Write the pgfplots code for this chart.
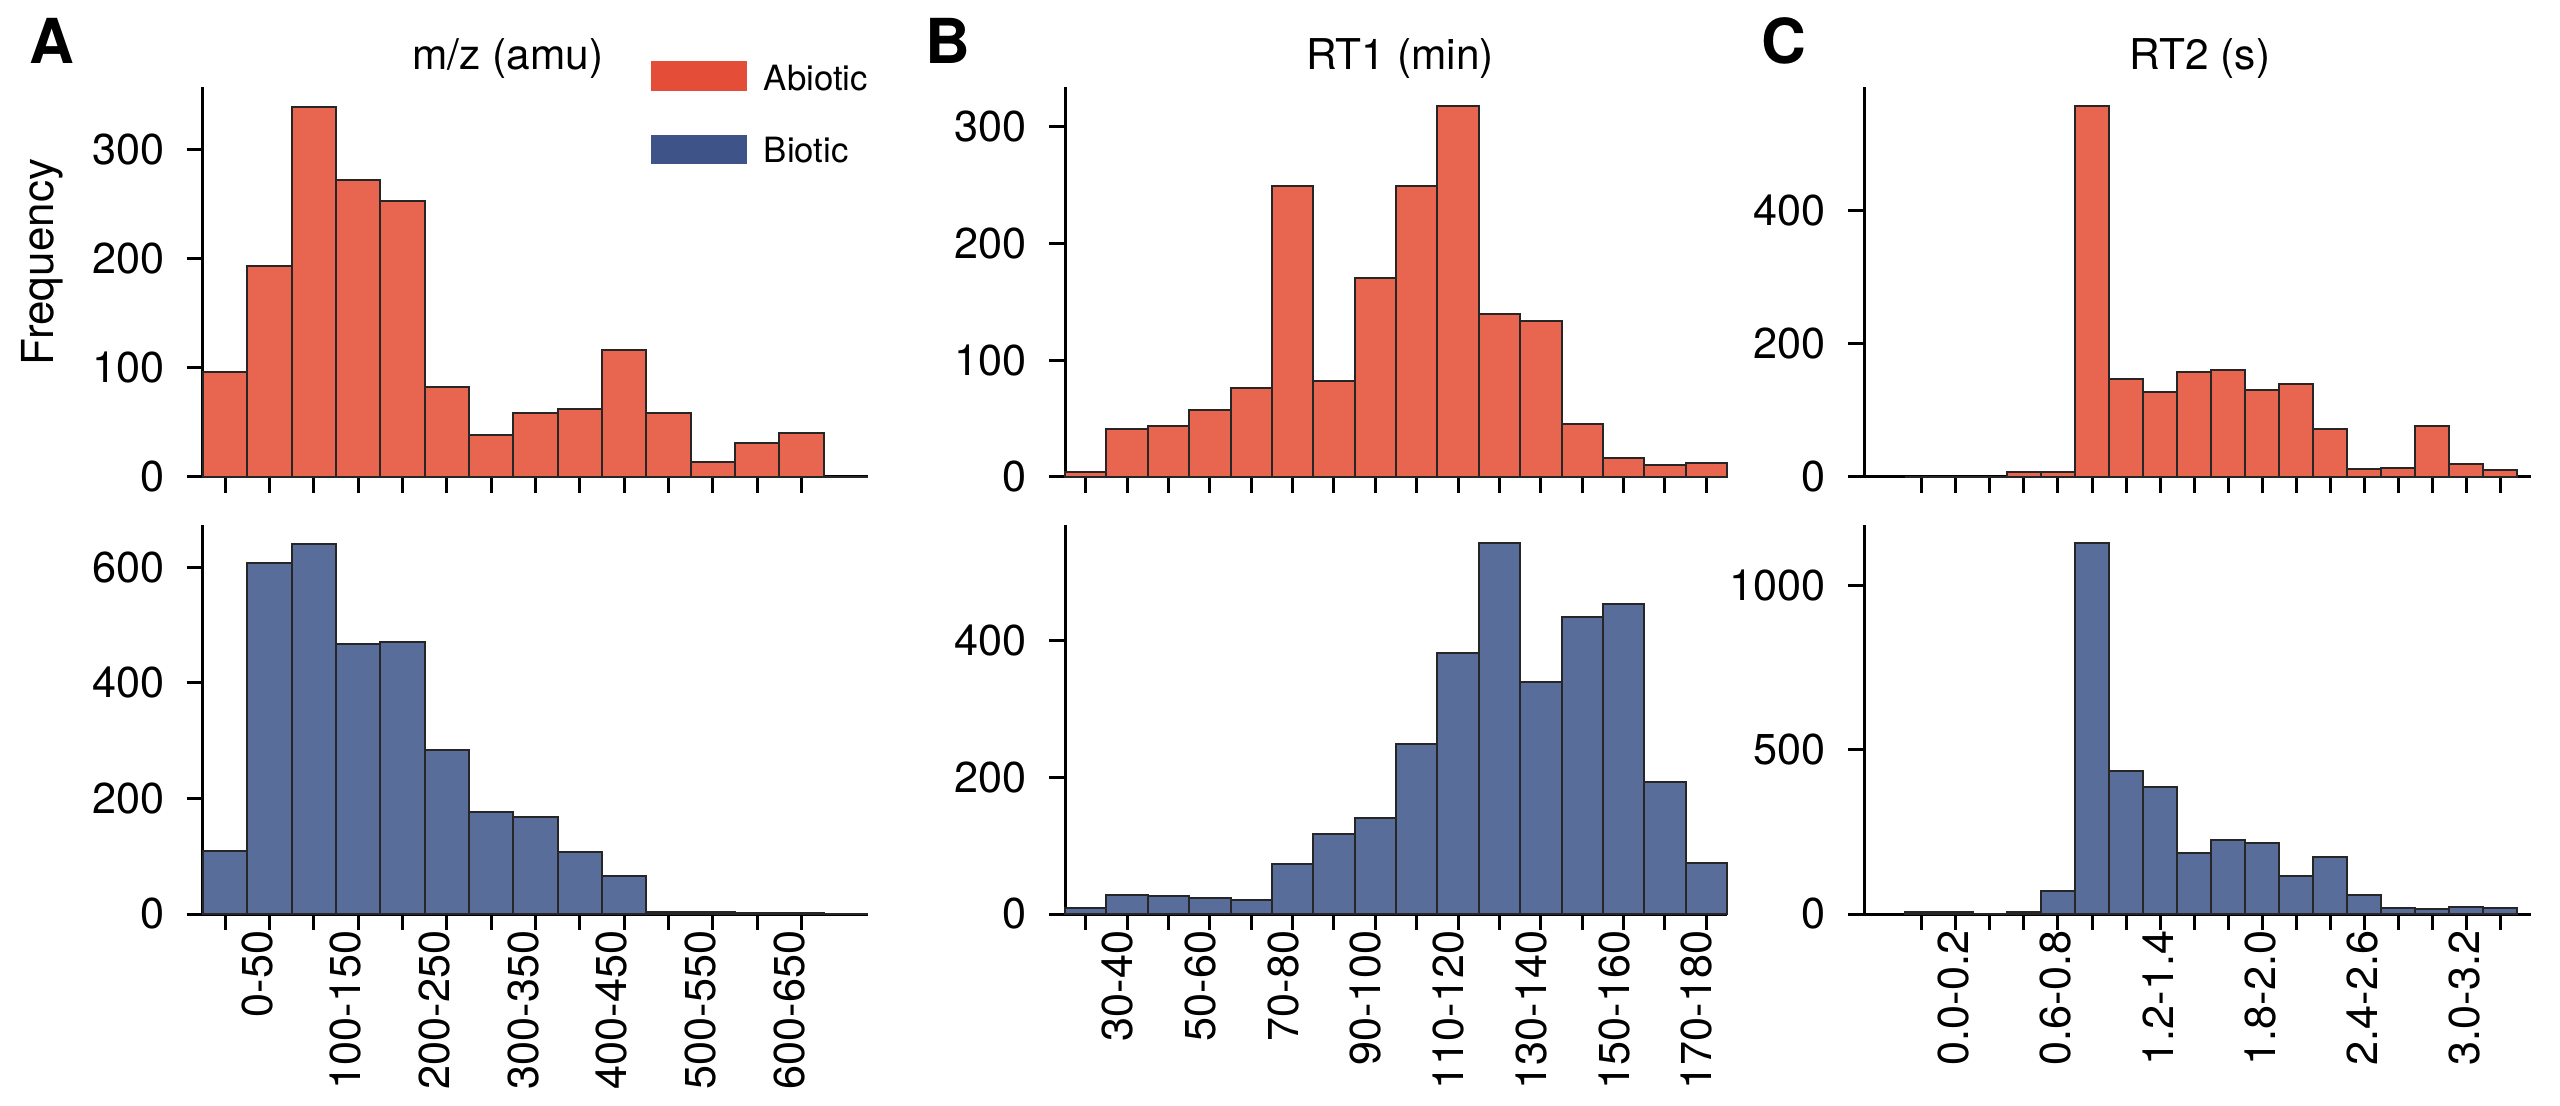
\documentclass[border=0pt]{standalone}
\usepackage{pgfplots}
\pgfplotsset{compat=1.18}
\usepackage{fontspec}
\setmainfont{TeX Gyre Heros}
\definecolor{abfill}{HTML}{E8654F}
\definecolor{bifill}{HTML}{596D9A}
\definecolor{ablegend}{HTML}{E44D38}
\definecolor{bilegend}{HTML}{3E5387}
\pgfplotsset{
  hist/.style={
    scale only axis, axis lines=left, axis line style={-, line width=0.75pt, black},
    tick align=outside, major tick length=4pt,
    every tick/.style={black, line width=0.75pt},
    ymin=0, ybar, bar width=1, bar shift=0,
    tick label style={font=\fontsize{10.8}{12}\selectfont},
    /pgf/number format/assume math mode=true,
    /pgf/number format/1000 sep={},
    xticklabel style={rotate=90, anchor=east, inner sep=0pt, yshift=-8pt},
    yticklabel style={anchor=east, inner sep=0pt, xshift=-5.5pt},
    anchor=south west, clip=false,
  },
  abio/.style={fill=abfill, draw=black!85, line width=0.5pt},
  bio/.style={fill=bifill, draw=black!85, line width=0.5pt},
}
\begin{document}
\begin{tikzpicture}
\useasboundingbox (0,0) rectangle (640pt,276.25pt);
% ---------------- A ----------------
\begin{axis}[hist, at={(50.75pt,157pt)}, width=166.25pt, height=97.5pt,
  xmin=-0.5, xmax=14.5, ymax=357, xtick={0,...,13}, xticklabels={},
  ytick={0,100,200,300}]
\addplot[abio] coordinates {(0,96) (1,193) (2,339) (3,272) (4,253) (5,82) (6,38) (7,59) (8,62) (9,116) (10,59) (11,14) (12,31) (13,40) (14,0)};
\end{axis}
\begin{axis}[hist, at={(50.75pt,47.75pt)}, width=166.25pt, height=97.25pt,
  xmin=-0.5, xmax=14.5, ymax=673, xtick={0,...,13},
  xticklabels={0-50,{},100-150,{},200-250,{},300-350,{},400-450,{},500-550,{},600-650,{}},
  ytick={0,200,400,600}]
\addplot[bio] coordinates {(0,109) (1,608) (2,641) (3,467) (4,471) (5,284) (6,177) (7,168) (8,107) (9,66) (10,4) (11,3) (12,1) (13,1) (14,0)};
\end{axis}
% ---------------- B ----------------
\begin{axis}[hist, at={(266.25pt,157pt)}, width=165.5pt, height=97.5pt,
  xmin=-0.5, xmax=15.5, ymax=334, xtick={0,...,15}, xticklabels={},
  ytick={0,100,200,300}]
\addplot[abio] coordinates {(0,4) (1,41) (2,44) (3,57) (4,76) (5,249) (6,82) (7,170) (8,249) (9,318) (10,140) (11,134) (12,45) (13,16) (14,10) (15,12)};
\end{axis}
\begin{axis}[hist, at={(266.25pt,47.75pt)}, width=165.5pt, height=97.25pt,
  xmin=-0.5, xmax=15.5, ymax=569, xtick={0,...,15},
  xticklabels={30-40,{},50-60,{},70-80,{},90-100,{},110-120,{},130-140,{},150-160,{},170-180,{}},
  ytick={0,200,400}]
\addplot[bio] coordinates {(0,9) (1,28) (2,26) (3,23) (4,20) (5,73) (6,117) (7,140) (8,249) (9,382) (10,542) (11,339) (12,434) (13,454) (14,193) (15,75)};
\end{axis}
% ---------------- C ----------------
\begin{axis}[hist, at={(466pt,157pt)}, width=166.75pt, height=97.5pt,
  xmin=-1.7, xmax=17.9, ymax=585, xtick={0,...,17}, xticklabels={},
  ytick={0,200,400}]
\addplot[abio] coordinates {(0,0) (1,0) (2,0) (3,7) (4,8) (5,557) (6,147) (7,128) (8,157) (9,160) (10,131) (11,140) (12,72) (13,12) (14,14) (15,77) (16,20) (17,11)};
\end{axis}
\begin{axis}[hist, at={(466pt,47.75pt)}, width=166.75pt, height=97.25pt,
  xmin=-1.7, xmax=17.9, ymax=1183, xtick={0,...,17},
  xticklabels={0.0-0.2,{},{},0.6-0.8,{},{},1.2-1.4,{},{},1.8-2.0,{},{},2.4-2.6,{},{},3.0-3.2,{},{}},
  ytick={0,500,1000}]
\addplot[bio] coordinates {(0,5) (1,5) (2,0) (3,6) (4,69) (5,1127) (6,436) (7,386) (8,186) (9,226) (10,216) (11,115) (12,172) (13,59) (14,19) (15,15) (16,22) (17,17)};
\end{axis}
% ---------------- labels ----------------
\node[font=\fontsize{15.5}{18}\bfseries] at (13pt,266pt) {A};
\node[font=\fontsize{15.5}{18}\bfseries] at (237pt,266pt) {B};
\node[font=\fontsize{15.5}{18}\bfseries] at (446pt,266pt) {C};
\node[font=\fontsize{10.6}{12}\selectfont, anchor=base] at (127pt,258.75pt) {m/z (amu)};
\node[font=\fontsize{10.6}{12}\selectfont, anchor=base] at (350pt,258.75pt) {RT1 (min)};
\node[font=\fontsize{10.6}{12}\selectfont, anchor=base] at (550pt,258.75pt) {RT2 (s)};
\node[font=\fontsize{11}{13}\selectfont, rotate=90] at (10.5pt,210.75pt) {Frequency};
% legend
\fill[ablegend] (162.75pt,253.5pt) rectangle (186.75pt,261pt);
\fill[bilegend] (162.75pt,235.25pt) rectangle (186.75pt,242.5pt);
\node[font=\fontsize{8.7}{10}\selectfont, anchor=base west, inner sep=0pt] at (190.75pt,253.7pt) {Abiotic};
\node[font=\fontsize{8.7}{10}\selectfont, anchor=base west, inner sep=0pt] at (190.75pt,235.6pt) {Biotic};
\end{tikzpicture}
\end{document}
